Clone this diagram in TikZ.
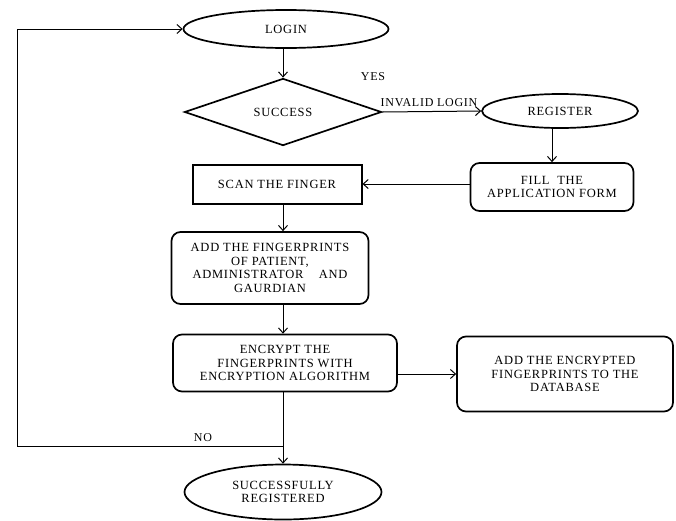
\documentclass[tikz,border=0pt]{standalone}
\usepackage{fontspec}
\setmainfont{Liberation Serif}[LetterSpace=6]
\usetikzlibrary{shapes.geometric,arrows.meta}
\begin{document}
\begin{tikzpicture}[x=1pt,y=-1pt,
  every node/.style={font=\fontsize{12.5}{13.8}\selectfont, align=center, inner sep=0pt},
  shp/.style={draw, line width=1.7pt},
  oval/.style={shp, ellipse},
  rbox/.style={shp, rounded corners=9pt},
  sbox/.style={shp, line width=2pt},
  dia/.style={shp, diamond},
  arr/.style={line width=1pt, -{Straight Barb[length=5pt,width=9pt]}},
  lbl/.style={font=\fontsize{12}{13}\selectfont}
]
\useasboundingbox (0,0) rectangle (676,520);
\coordinate (col) at (283,0);

\node[oval, minimum width=205pt, minimum height=38pt] (login) at (286,29) {LOGIN};
\node[dia, minimum width=197pt, minimum height=48pt] (succ) at (283,112) {SUCCESS};
\node[oval, minimum width=156pt, minimum height=34pt] (reg) at (560,111) {REGISTER};
\node[rbox, minimum width=163pt, minimum height=48pt] (fill) at (552,187) {FILL\ \ THE\\APPLICATION FORM};
\node[sbox, minimum width=169pt, minimum height=39pt] (scan) at (277,184) {SCAN THE FINGER};
\node[rbox, minimum width=197pt, minimum height=72pt] (add) at (270,268) {ADD THE FINGERPRINTS\\OF PATIENT,\\ADMINISTRATOR\ \ \ \ AND\\GAURDIAN};
\node[rbox, minimum width=224pt, minimum height=57pt] (enc) at (285,363) {ENCRYPT THE\\FINGERPRINTS WITH\\ENCRYPTION ALGORITHM};
\node[rbox, minimum width=216pt, minimum height=75pt] (db) at (565,374) {ADD THE ENCRYPTED\\FINGERPRINTS TO THE\\DATABASE};
\node[oval, minimum width=197pt, minimum height=55pt] (done) at (283,492) {SUCCESSFULLY\\REGISTERED};

\coordinate (nojoin) at (283,446);
\coordinate (corner) at (17,446);

\node[lbl] (yes) at (373,77) {YES};
\node[lbl] (inv) at (429,103) {INVALID LOGIN};
\node[lbl] (no) at (203,438) {NO};

\draw[arr] (login.south -| col) -- (succ.north);
\draw[arr] (succ.east) -- (reg.west);
\draw[arr] (reg.south -| fill.north) -- (fill.north);
\draw[arr] (scan.east -| fill.west) -- (scan.east);
\draw[arr] (scan.south -| col) -- (add.north -| col);
\draw[arr] (add.south -| col) -- (enc.north -| col);
\draw[arr] (db.west -| enc.east) -- (db.west);
\draw[arr] (enc.south -| col) -- (done.north);
\draw[arr] (nojoin) -- (corner) |- (login.west);
\end{tikzpicture}
\end{document}
